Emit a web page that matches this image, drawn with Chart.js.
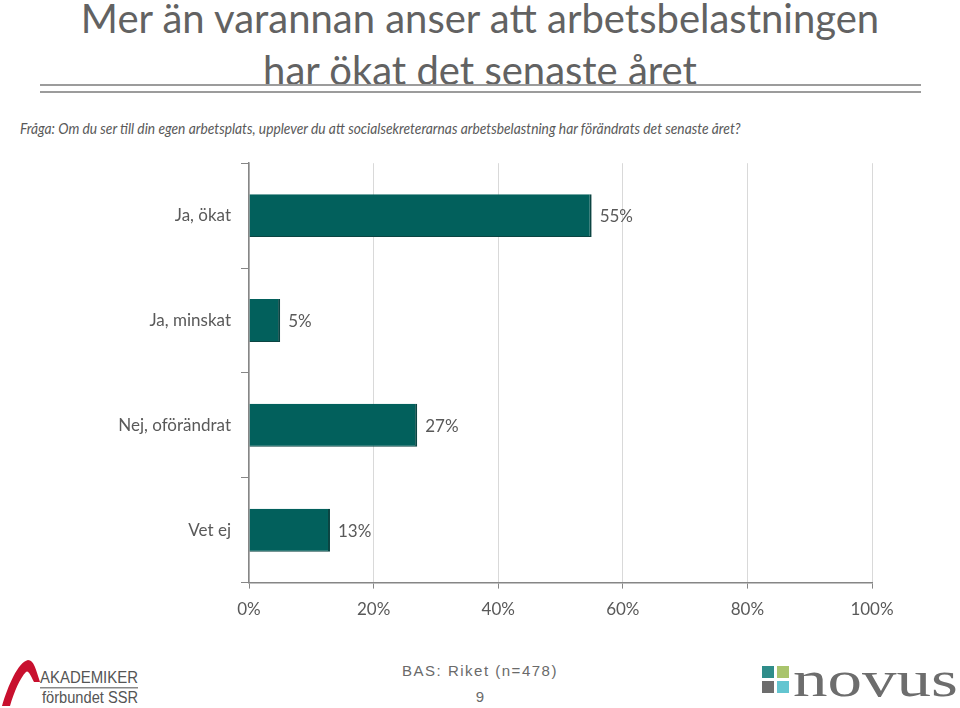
<!DOCTYPE html>
<html>
<head>
<meta charset="utf-8">
<script src="https://cdn.jsdelivr.net/npm/chart.js@4.4.0/dist/chart.umd.min.js"></script>
<style>
  html, body { margin: 0; padding: 0; background: #fff; }
  body { width: 960px; height: 708px; position: relative; overflow: hidden; font-family: Lato, "Open Sans", sans-serif; color: #595959; }
  .title { position: absolute; left: 0; width: 960px; text-align: center; font-size: 40px; font-weight: 400; line-height: 52px; top: -8px; color: #626262; }
  .rule { position: absolute; left: 40px; width: 881px; height: 2px; background: #9c9c9c; }
  .question { position: absolute; left: 20px; top: 119px; font-size: 15.5px; font-style: italic; color: #595959; white-space: nowrap; transform: scaleX(0.89); transform-origin: left center; }
  #chart-wrap { position: absolute; left: 0; top: 143px; width: 960px; height: 488px; }
  .base { position: absolute; left: 0; width: 960px; text-align: center; font-family: "Liberation Sans", Arial, sans-serif; color: #6a6a6a; }
  .logo-left { position: absolute; left: 0; top: 656px; width: 145px; height: 52px; }
  .logo-right { position: absolute; left: 760px; top: 658px; width: 200px; height: 42px; }
</style>
</head>
<body>
<div class="title">Mer än varannan anser att arbetsbelastningen<br>har ökat det senaste året</div>
<div class="rule" style="top:84px"></div>
<div class="rule" style="top:91px"></div>
<div class="question">Fråga: Om du ser till din egen arbetsplats, upplever du att socialsekreterarnas arbetsbelastning har förändrats det senaste året?</div>
<div id="chart-wrap"><canvas id="chart"></canvas></div>
<div class="base" style="top:662px; font-size:15px; letter-spacing:1.5px;">BAS: Riket (n=478)</div>
<div class="base" style="top:688px; font-size:15px;">9</div>
<svg class="logo-left" viewBox="0 0 145 52">
  <path d="M2 50 C 8 30, 18 6, 28 4 C 34 4, 36 14, 40 26 L 34 26 C 30 18, 28 14, 26 16 C 20 22, 14 36, 10 50 Z" fill="#c8102e"/>
  <text x="40" y="27" font-family="Liberation Sans, sans-serif" font-size="16" fill="#555" textLength="98" lengthAdjust="spacingAndGlyphs">AKADEMIKER</text>
  <rect x="40" y="31" width="98" height="1.5" fill="#888"/>
  <text x="42" y="47" font-family="Liberation Sans, sans-serif" font-size="16" fill="#555" textLength="96" lengthAdjust="spacingAndGlyphs">förbundet SSR</text>
</svg>
<svg class="logo-right" viewBox="0 0 200 42">
  <rect x="2" y="8" width="12" height="12" fill="#2f8d8a"/>
  <rect x="17" y="8" width="12" height="12" fill="#a9c46c"/>
  <rect x="2" y="23" width="12" height="12" fill="#6d6d6d"/>
  <rect x="17" y="23" width="12" height="12" fill="#63c5d0"/>
  <text x="33" y="38" font-family="Liberation Serif, serif" font-size="50" fill="#6d6d6d" textLength="165" lengthAdjust="spacingAndGlyphs">novus</text>
</svg>
<script>
const categories = ['Ja, ökat', 'Ja, minskat', 'Nej, oförändrat', 'Vet ej'];
const shares = [55, 5, 27, 13];
const xTicks = [0, 20, 40, 60, 80, 100];

const barColor = '#02605c';
const textGray = '#595959';

const valueLabels = {
    id: 'valueLabels',
    afterDatasetsDraw(chart) {
        const ctx = chart.ctx;
        const meta = chart.getDatasetMeta(0);
        ctx.save();
        ctx.font = '17px Lato, "Open Sans", sans-serif';
        ctx.fillStyle = textGray;
        ctx.textAlign = 'left';
        ctx.textBaseline = 'middle';
        meta.data.forEach((bar, i) => {
            ctx.fillText(shares[i] + '%', bar.x + 8, bar.y + 1);
        });
        ctx.restore();
    }
};

new Chart(document.getElementById('chart'), {
    type: 'bar',
    data: {
        labels: categories,
        datasets: [{
            data: shares,
            backgroundColor: barColor,
            borderColor: '#0b4442',
            borderWidth: { top: 0, bottom: 1, left: 0, right: 2 },
            borderSkipped: false,
            categoryPercentage: 1,
            barPercentage: 0.41
        }]
    },
    options: {
        indexAxis: 'y',
        responsive: true,
        maintainAspectRatio: false,
        animation: false,
        layout: { padding: { top: 0, right: 88, bottom: 0, left: 0 } },
        plugins: { legend: { display: false }, tooltip: { enabled: false } },
        scales: {
            x: {
                min: 0,
                max: 100,
                afterBuildTicks: (scale) => { scale.ticks = xTicks.map(v => ({ value: v })); },
                ticks: {
                    callback: v => v + '%',
                    color: textGray,
                    font: { family: 'Lato, "Open Sans", sans-serif', size: 17 },
                    padding: 11,
                    maxRotation: 0
                },
                grid: { color: '#d9d9d9', lineWidth: 1, tickLength: 6, tickColor: '#868686' },
                border: { color: '#868686', width: 1.5 }
            },
            y: {
                afterFit: (scale) => { scale.width = 249; },
                ticks: {
                    color: textGray,
                    font: { family: 'Lato, "Open Sans", sans-serif', size: 17 },
                    padding: 10
                },
                grid: { drawOnChartArea: false, offset: true, tickLength: 8, color: '#868686' },
                border: { color: '#868686', width: 1.5 }
            }
        }
    },
    plugins: [valueLabels]
});
</script>
</body>
</html>
